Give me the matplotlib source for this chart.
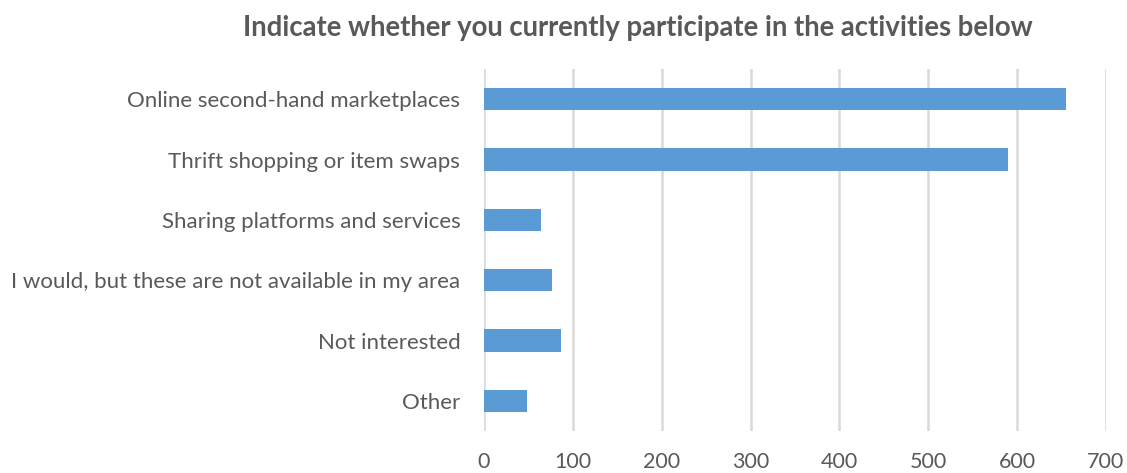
import matplotlib
matplotlib.use('Agg')
import matplotlib.pyplot as plt

# survey answers, top to bottom
categories = ['Online second-hand marketplaces',
              'Thrift shopping or item swaps',
              'Sharing platforms and services',
              'I would, but these are not available in my area',
              'Not interested',
              'Other']
counts = [655, 590, 64, 77, 87, 49]
xticks = [0, 100, 200, 300, 400, 500, 600, 700]

grey = '#595959'
plt.rcParams['font.family'] = ['Lato', 'DejaVu Sans']

fig = plt.figure(figsize=(11.27, 4.73), dpi=100)
ax = fig.add_axes([0.4294, 0.0888, 0.5519, 0.7653])

ypos = list(range(len(categories)))
ax.barh(ypos, counts, height=0.37, color='#5B9BD5', zorder=2)
ax.set_ylim(len(categories) - 0.5, -0.5)
ax.set_xlim(0, 700)
ax.set_yticks(ypos)
ax.set_yticklabels(categories, fontsize=16, color=grey)
ax.set_xticks(xticks)
ax.set_xticklabels([str(t) for t in xticks], fontsize=15.5, color=grey)
ax.tick_params(axis='both', length=0)
ax.tick_params(axis='y', pad=17)
ax.tick_params(axis='x', pad=15)
ax.xaxis.grid(True, color='#D9D9D9', linewidth=1.8, zorder=0)
ax.set_axisbelow(True)
for s in ax.spines.values():
    s.set_visible(False)

fig.text(0.566, 0.94, 'Indicate whether you currently participate in the activities below',
         ha='center', va='center', fontsize=19.8, fontweight='bold', color=grey)

fig.savefig('out.png', dpi=100)
